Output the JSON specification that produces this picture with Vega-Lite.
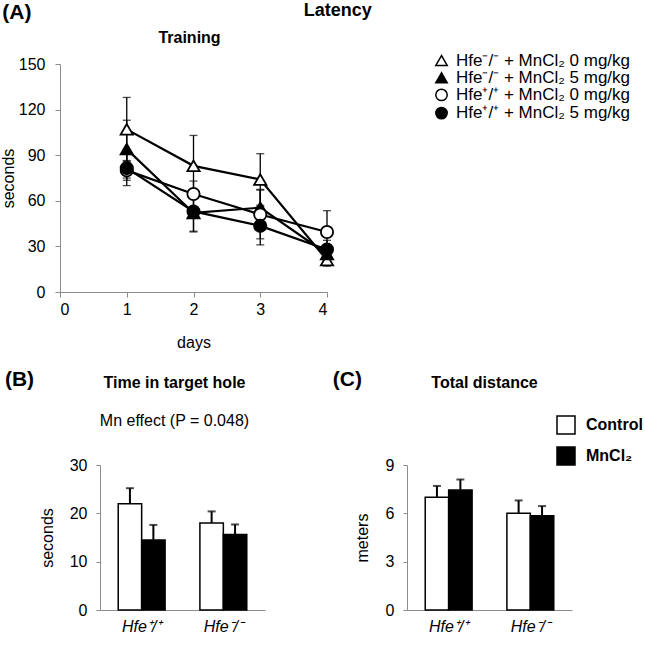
{
  "$schema": "https://vega.github.io/schema/vega-lite/v6.json",
  "background": "white",
  "padding": {"left": 0, "top": 2, "right": 2, "bottom": 2},
  "config": {
    "font": "Liberation Sans",
    "view": {"stroke": null},
    "axis": {"grid": false, "domainColor": "#8c8c8c", "tickColor": "#8c8c8c", "labelColor": "#000", "titleColor": "#000", "labelFontSize": 16, "titleFontSize": 16, "titleFontWeight": "normal", "labelFont": "Liberation Sans", "titleFont": "Liberation Sans"},
    "title": {"fontSize": 16, "fontWeight": "bold", "color": "#000", "subtitleFontSize": 16, "subtitleColor": "#000", "font": "Liberation Sans", "subtitleFont": "Liberation Sans"},
    "legend": {"labelFont": "Liberation Sans", "labelColor": "#000", "labelLimit": 400}
  },
  "title": {"text": "(A)", "anchor": "start", "fontSize": 21, "offset": -21, "dx": 2},
  "columns": 1,
  "align": "none",
  "spacing": 19,
  "resolve": {"scale": {"fill": "independent", "shape": "independent"}, "legend": {"fill": "independent", "shape": "independent"}},
  "concat": [
    {
      "title": {"text": "Latency", "anchor": "middle", "fontSize": 18, "dx": 22, "offset": 10},
      "vconcat": [
        {
          "width": 227,
          "height": 228,
          "title": {"text": "Training", "anchor": "middle", "frame": "group", "offset": 10, "dx": -24},
          "data": {"values": [
            {"series": "Hfe⁻/⁻ + MnCl₂ 0 mg/kg", "day": 1, "value": 107, "lo": 86, "hi": 128},
            {"series": "Hfe⁻/⁻ + MnCl₂ 0 mg/kg", "day": 2, "value": 83, "lo": 63, "hi": 103},
            {"series": "Hfe⁻/⁻ + MnCl₂ 0 mg/kg", "day": 3, "value": 74, "lo": 57, "hi": 91},
            {"series": "Hfe⁻/⁻ + MnCl₂ 0 mg/kg", "day": 4, "value": 21, "lo": 17, "hi": 25},
            {"series": "Hfe⁻/⁻ + MnCl₂ 5 mg/kg", "day": 1, "value": 94, "lo": 75, "hi": 113},
            {"series": "Hfe⁻/⁻ + MnCl₂ 5 mg/kg", "day": 2, "value": 52, "lo": 40, "hi": 64},
            {"series": "Hfe⁻/⁻ + MnCl₂ 5 mg/kg", "day": 3, "value": 55.5, "lo": 43.5, "hi": 67.5},
            {"series": "Hfe⁻/⁻ + MnCl₂ 5 mg/kg", "day": 4, "value": 25, "lo": 20, "hi": 30},
            {"series": "Hfe⁺/⁺ + MnCl₂ 0 mg/kg", "day": 1, "value": 80, "lo": 73.5, "hi": 86.5},
            {"series": "Hfe⁺/⁺ + MnCl₂ 0 mg/kg", "day": 2, "value": 64.5, "lo": 56, "hi": 73},
            {"series": "Hfe⁺/⁺ + MnCl₂ 0 mg/kg", "day": 3, "value": 51, "lo": 35, "hi": 67},
            {"series": "Hfe⁺/⁺ + MnCl₂ 0 mg/kg", "day": 4, "value": 39.5, "lo": 25.5, "hi": 53.5},
            {"series": "Hfe⁺/⁺ + MnCl₂ 5 mg/kg", "day": 1, "value": 81.5, "lo": 70, "hi": 93},
            {"series": "Hfe⁺/⁺ + MnCl₂ 5 mg/kg", "day": 2, "value": 53, "lo": 39.5, "hi": 66.5},
            {"series": "Hfe⁺/⁺ + MnCl₂ 5 mg/kg", "day": 3, "value": 43.5, "lo": 31, "hi": 56},
            {"series": "Hfe⁺/⁺ + MnCl₂ 5 mg/kg", "day": 4, "value": 28, "lo": 22, "hi": 34}
          ]},
          "encoding": {
            "x": {"field": "day", "type": "quantitative", "scale": {"domain": [0, 4], "nice": false, "range": [-40, 227]}, "axis": {"values": [0, 1, 2, 3, 4], "title": "days", "tickSize": 5, "labelPadding": 4, "titlePadding": 17, "format": "d"}}
          },
          "layer": [
            {"mark": {"type": "rule", "color": "black", "strokeWidth": 1.3},
             "encoding": {"y": {"field": "lo", "type": "quantitative", "title": "seconds", "scale": {"domain": [0, 150], "nice": false}, "axis": {"values": [0, 30, 60, 90, 120, 150], "offset": 40, "tickSize": 5, "labelPadding": 10, "titlePadding": 2}}, "y2": {"field": "hi"}}},
            {"mark": {"type": "tick", "orient": "horizontal", "color": "black", "size": 8, "thickness": 1.3},
             "encoding": {"y": {"field": "hi", "type": "quantitative", "title": "seconds"}}},
            {"mark": {"type": "tick", "orient": "horizontal", "color": "black", "size": 8, "thickness": 1.3},
             "encoding": {"y": {"field": "lo", "type": "quantitative", "title": "seconds"}}},
            {"mark": {"type": "line", "color": "black", "strokeWidth": 2.2},
             "encoding": {"y": {"field": "value", "type": "quantitative", "title": "seconds"}, "detail": {"field": "series", "type": "nominal"}}},
            {"mark": {"type": "point", "filled": true, "stroke": "black", "strokeWidth": 1.8, "size": 150, "opacity": 1},
             "encoding": {
               "y": {"field": "value", "type": "quantitative", "title": "seconds"},
               "shape": {"field": "series", "type": "nominal", "scale": {"domain": ["Hfe⁻/⁻ + MnCl₂ 0 mg/kg", "Hfe⁻/⁻ + MnCl₂ 5 mg/kg", "Hfe⁺/⁺ + MnCl₂ 0 mg/kg", "Hfe⁺/⁺ + MnCl₂ 5 mg/kg"], "range": ["triangle-up", "triangle-up", "circle", "circle"]},
                 "legend": {"orient": "none", "legendX": 333, "legendY": -12, "title": null, "labelFontSize": 17, "symbolSize": 130, "rowPadding": -0.8, "labelOffset": 6, "encode": {"symbols": {"update": {"stroke": {"value": "black"}, "strokeWidth": {"value": 1.5}}}}}},
               "fill": {"field": "series", "type": "nominal", "scale": {"domain": ["Hfe⁻/⁻ + MnCl₂ 0 mg/kg", "Hfe⁻/⁻ + MnCl₂ 5 mg/kg", "Hfe⁺/⁺ + MnCl₂ 0 mg/kg", "Hfe⁺/⁺ + MnCl₂ 5 mg/kg"], "range": ["white", "black", "white", "black"]},
                 "legend": {"orient": "none", "legendX": 333, "legendY": -12, "title": null, "labelFontSize": 17, "symbolSize": 130, "rowPadding": -0.8, "labelOffset": 6, "encode": {"symbols": {"update": {"stroke": {"value": "black"}, "strokeWidth": {"value": 1.5}}}}}}
             }}
          ]
        }
      ]
    },
    {
      "spacing": 67,
      "resolve": {"scale": {"fill": "independent"}, "legend": {"fill": "independent"}},
      "hconcat": [
        {
          "title": {"text": "(B)", "orient": "left", "angle": 0, "anchor": "end", "align": "right", "baseline": "top", "fontSize": 21, "offset": -24, "dy": -6},
          "vconcat": [
            {
              "width": 165,
              "height": 145,
              "title": {"text": "Time in target hole", "subtitle": "Mn effect (P = 0.048)", "anchor": "middle", "frame": "group", "dx": -8, "offset": 28, "subtitlePadding": 22, "subtitleFontWeight": "normal"},
              "data": {"values": [
                {"genotype": "Hfe⁺/⁺", "treatment": "Control", "value": 22.0, "hi": 25.2},
                {"genotype": "Hfe⁺/⁺", "treatment": "MnCl₂", "value": 14.5, "hi": 17.6},
                {"genotype": "Hfe⁻/⁻", "treatment": "Control", "value": 18.0, "hi": 20.4},
                {"genotype": "Hfe⁻/⁻", "treatment": "MnCl₂", "value": 15.6, "hi": 17.7}
              ]},
              "encoding": {
                "x": {"field": "genotype", "type": "nominal", "scale": {"domain": ["Hfe⁺/⁺", "Hfe⁻/⁻"], "paddingInner": 0.426, "paddingOuter": 0.223}, "axis": {"title": null, "ticks": false, "labelAngle": 0, "labelFontStyle": "italic", "labelPadding": 8}},
                "xOffset": {"field": "treatment", "type": "nominal", "scale": {"domain": ["Control", "MnCl₂"], "paddingInner": 0, "paddingOuter": 0}}
              },
              "layer": [
                {"mark": {"type": "bar", "stroke": "black", "strokeWidth": 1.5},
                 "encoding": {
                   "y": {"field": "value", "type": "quantitative", "title": "seconds", "scale": {"domain": [0, 30], "nice": false}, "axis": {"values": [0, 10, 20, 30], "tickSize": 4, "labelPadding": 9, "titlePadding": 14}},
                   "fill": {"field": "treatment", "type": "nominal", "scale": {"domain": ["Control", "MnCl₂"], "range": ["white", "black"]}, "legend": null}
                 }},
                {"mark": {"type": "rule", "color": "black", "strokeWidth": 2},
                 "encoding": {"y": {"field": "value", "type": "quantitative", "title": "seconds"}, "y2": {"field": "hi"}}},
                {"mark": {"type": "tick", "orient": "horizontal", "color": "black", "size": 8, "thickness": 2},
                 "encoding": {"y": {"field": "hi", "type": "quantitative", "title": "seconds"}}}
              ]
            }
          ]
        },
        {
          "title": {"text": "(C)", "orient": "left", "angle": 0, "anchor": "end", "align": "right", "baseline": "top", "fontSize": 21, "offset": -37, "dy": -6},
          "vconcat": [
            {
              "width": 165,
              "height": 145,
              "title": {"text": "Total distance", "anchor": "middle", "frame": "group", "dx": -5, "offset": 66},
              "data": {"values": [
                {"genotype": "Hfe⁺/⁺", "treatment": "Control", "value": 7.0, "hi": 7.7},
                {"genotype": "Hfe⁺/⁺", "treatment": "MnCl₂", "value": 7.45, "hi": 8.1},
                {"genotype": "Hfe⁻/⁻", "treatment": "Control", "value": 6.0, "hi": 6.8},
                {"genotype": "Hfe⁻/⁻", "treatment": "MnCl₂", "value": 5.85, "hi": 6.45}
              ]},
              "encoding": {
                "x": {"field": "genotype", "type": "nominal", "scale": {"domain": ["Hfe⁺/⁺", "Hfe⁻/⁻"], "paddingInner": 0.426, "paddingOuter": 0.223}, "axis": {"title": null, "ticks": false, "labelAngle": 0, "labelFontStyle": "italic", "labelPadding": 8}},
                "xOffset": {"field": "treatment", "type": "nominal", "scale": {"domain": ["Control", "MnCl₂"], "paddingInner": 0, "paddingOuter": 0}}
              },
              "layer": [
                {"mark": {"type": "bar", "stroke": "black", "strokeWidth": 1.5},
                 "encoding": {
                   "y": {"field": "value", "type": "quantitative", "title": "meters", "scale": {"domain": [0, 9], "nice": false}, "axis": {"values": [0, 3, 6, 9], "tickSize": 4, "labelPadding": 9, "titlePadding": 15}},
                   "fill": {"field": "treatment", "type": "nominal", "scale": {"domain": ["Control", "MnCl₂"], "range": ["white", "black"]},
                     "legend": {"orient": "none", "legendX": 149, "legendY": -50, "title": null, "symbolType": "square", "symbolSize": 324, "labelFontSize": 16, "labelFontWeight": "bold", "rowPadding": 7, "labelOffset": 10, "encode": {"symbols": {"update": {"stroke": {"value": "black"}, "strokeWidth": {"value": 1.5}}}}}}
                 }},
                {"mark": {"type": "rule", "color": "black", "strokeWidth": 2},
                 "encoding": {"y": {"field": "value", "type": "quantitative", "title": "meters"}, "y2": {"field": "hi"}}},
                {"mark": {"type": "tick", "orient": "horizontal", "color": "black", "size": 8, "thickness": 2},
                 "encoding": {"y": {"field": "hi", "type": "quantitative", "title": "meters"}}}
              ]
            }
          ]
        }
      ]
    }
  ]
}
